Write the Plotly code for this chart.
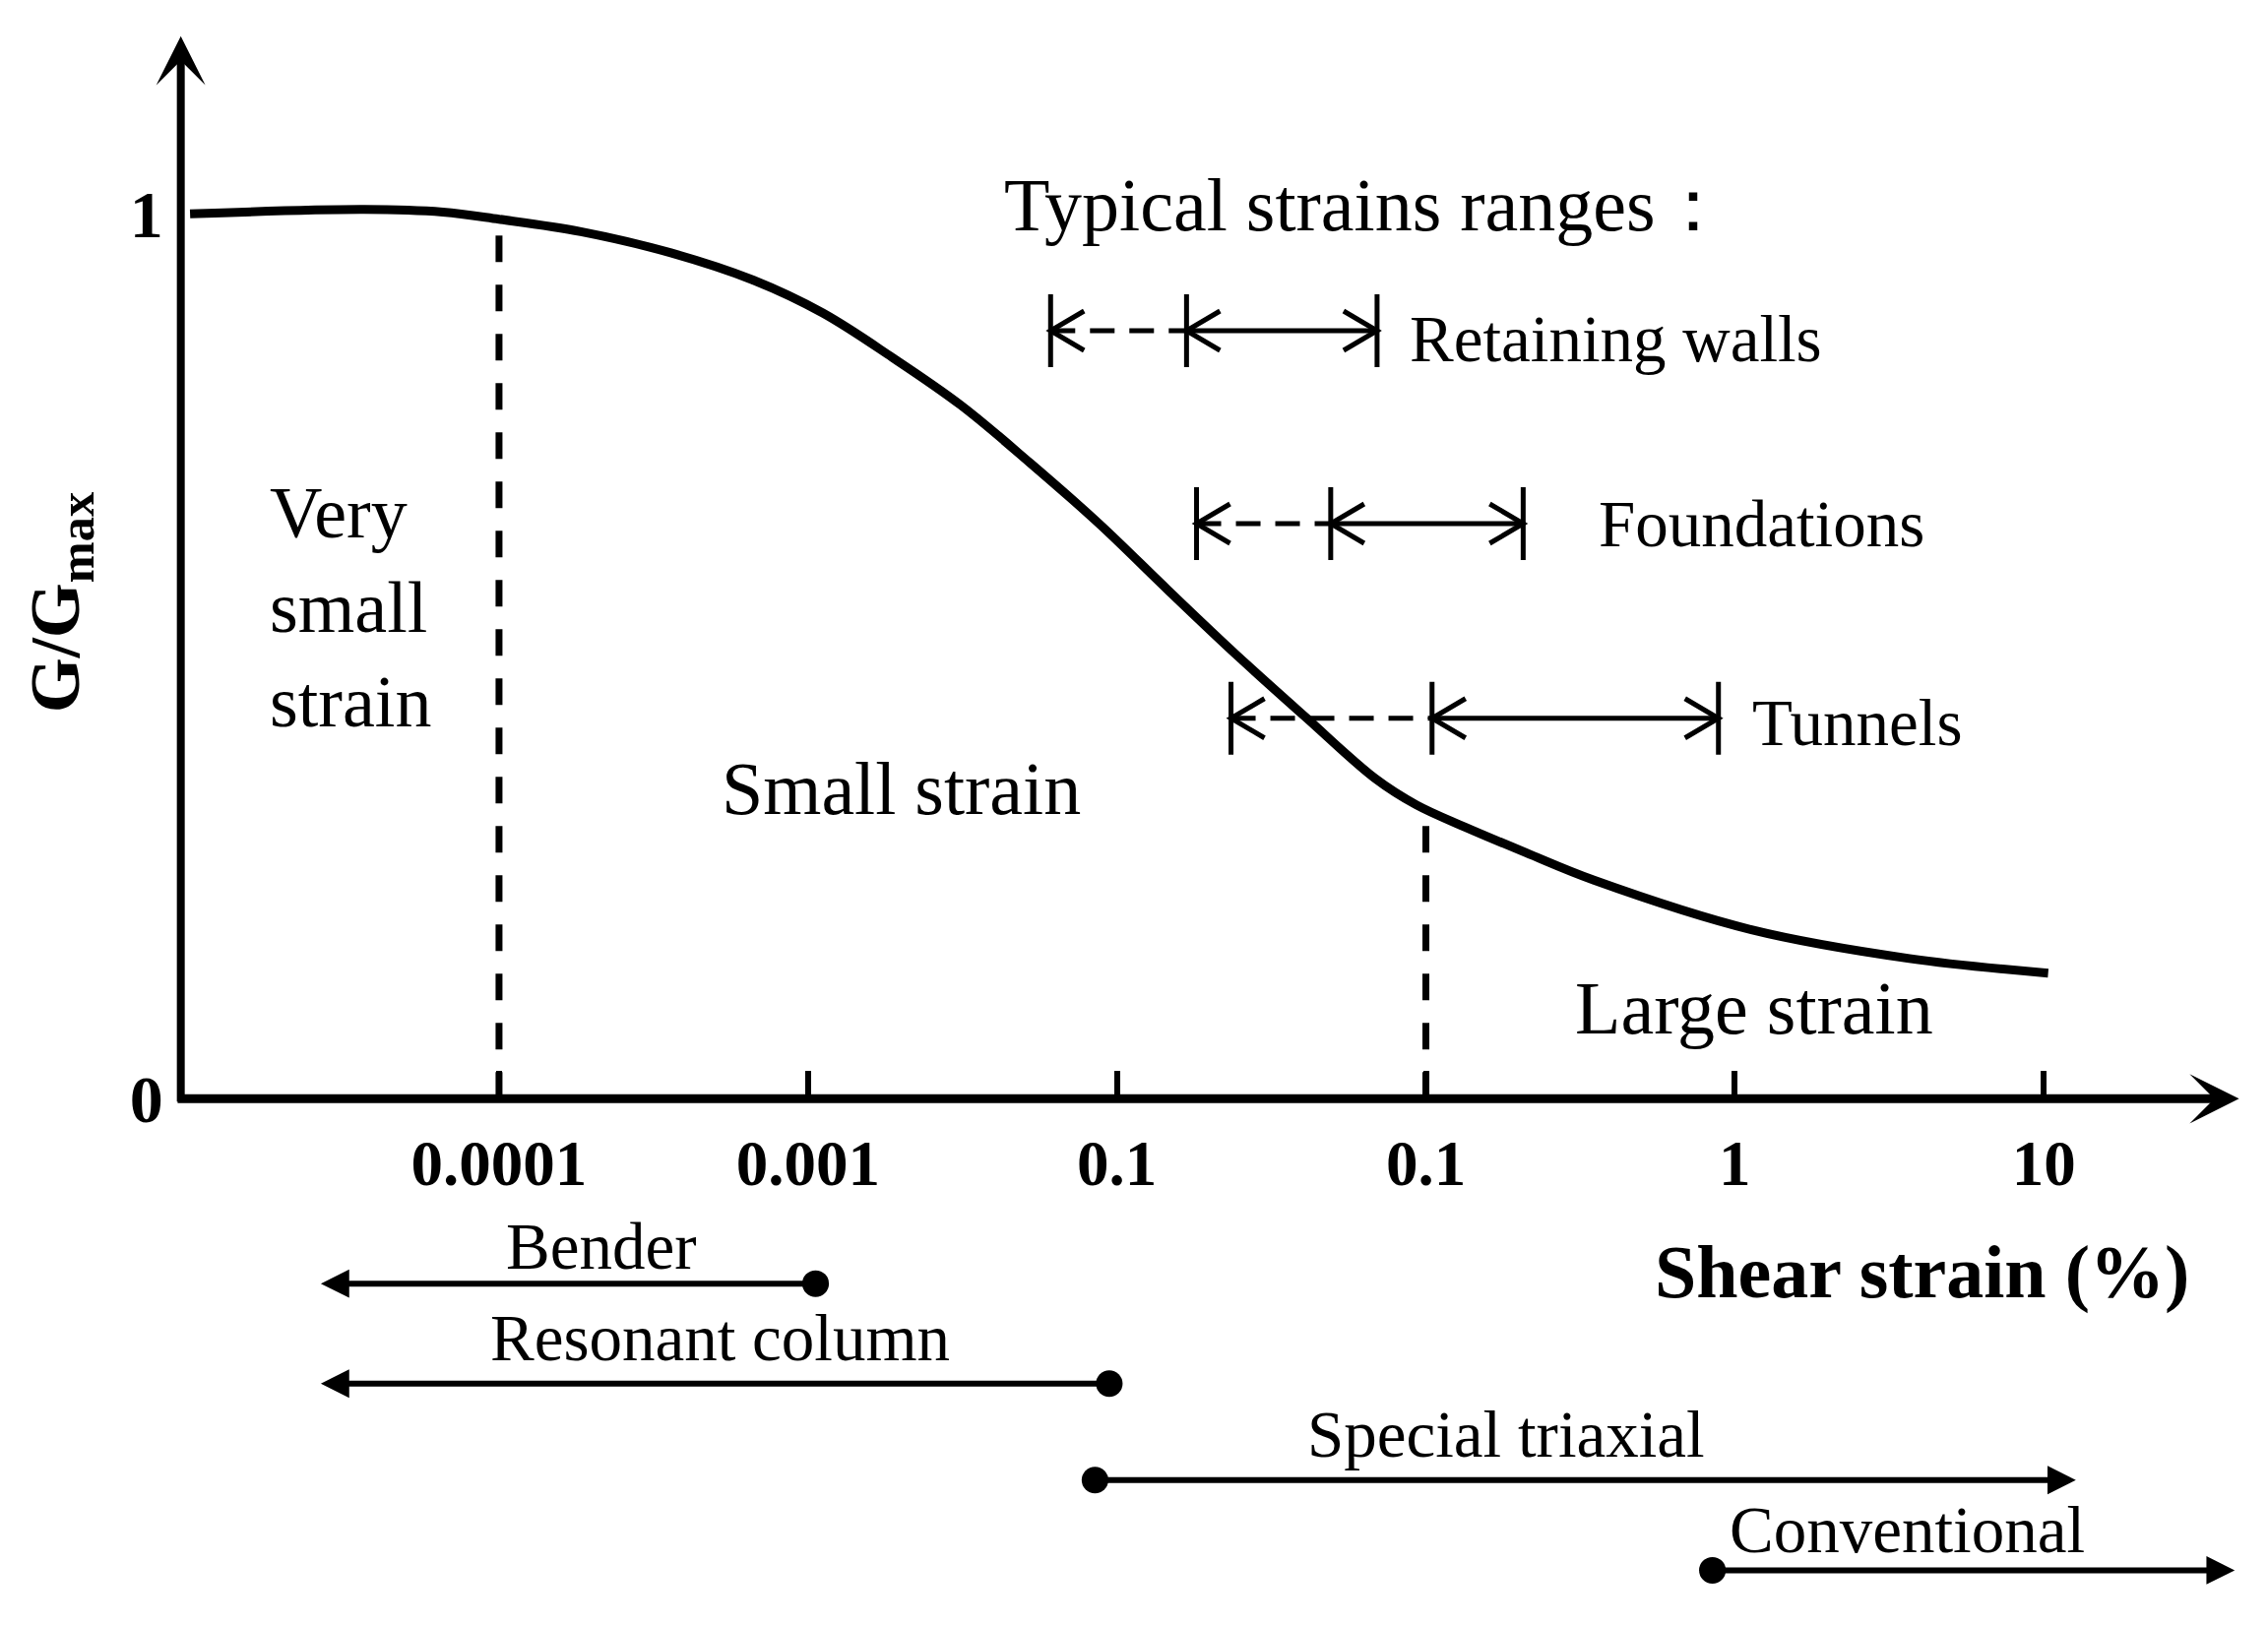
import numpy as np
import plotly.graph_objects as go

# ---------------- data ----------------
strain_curve = [1.0e-5, 3.66e-5, 6.58e-5, 1.0e-4, 1.84e-4, 3.60e-4, 6.67e-4, 1.117e-3,
                1.871e-3, 3.12e-3, 5.22e-3, 8.75e-3, 1.462e-2, 2.449e-2, 4.09e-2,
                6.85e-2, 9.33e-2, 0.134, 0.211, 0.350, 1.132, 3.673, 10.33]
g_ratio = [1.000, 1.005, 1.002, 0.994, 0.980, 0.956, 0.925, 0.888,
           0.838, 0.784, 0.719, 0.650, 0.575, 0.501, 0.431,
           0.362, 0.332, 0.307, 0.278, 0.247, 0.191, 0.1585, 0.142]

tick_values = [1e-4, 1e-3, 1e-2, 1e-1, 1, 10]
tick_labels = ["0.0001", "0.001", "0.1", "0.1", "1", "10"]
y_tick_values = [0, 1]
y_tick_labels = ["0", "1"]

boundary_strains = [1e-4, 1e-1]
boundary_tops = [0.985, 0.33]

range_names = ["Retaining walls", "Foundations", "Tunnels"]
range_level = [0.868, 0.650, 0.430]
range_ext_start = [0.0061, 0.0181, 0.0234]
range_start = [0.0168, 0.0492, 0.1047]
range_end = [0.0695, 0.2065, 0.885]

test_names = ["Bender", "Resonant column", "Special triaxial", "Conventional"]
test_from = [0.00107, 0.00955, 0.0084, 0.837]
test_to = [2.65e-5, 2.65e-5, 12.7, 41.5]

# ---------------- layout constants ----------------
W, H = 2296, 1643          # page body adds an 8px offset
x_range = [-5.5897, 1.7257]
y_range = [-0.5948, 1.2329]
FX = (x_range[1] - x_range[0]) / W
FY = (y_range[1] - y_range[0]) / H
FONT = "Liberation Serif, Times New Roman, serif"

yaxis_x = -5.030
xaxis_left = -5.045
xaxis_tip = 1.632
yaxis_tip = 1.201

test_level = [-0.209, -0.322, -0.431, -0.533]
test_label_x = [-3.670, -3.284, -0.739, 0.558]
test_label_y = [-0.167, -0.270, -0.379, -0.487]

range_label_x = [-1.060, -0.447, 0.050]
range_label_y = [0.859, 0.650, 0.425]

fig = go.Figure()

# main curve
fig.add_trace(go.Scatter(
    x=np.log10(strain_curve), y=g_ratio, mode="lines",
    line=dict(color="black", width=9, shape="spline", smoothing=1.0),
    hoverinfo="skip", showlegend=False))

# boundary dashed lines
for bs, top in zip(boundary_strains, boundary_tops):
    fig.add_trace(go.Scatter(
        x=[np.log10(bs), np.log10(bs)], y=[0, top], mode="lines",
        line=dict(color="black", width=7, dash="27px,23px"),
        hoverinfo="skip", showlegend=False))

# typical strain ranges
bar_half = 37 * FY
chev_len = 34 * FX
chev_half = 20 * FY
for i in range(len(range_names)):
    x0 = np.log10(range_ext_start[i])
    x1 = np.log10(range_start[i])
    x2 = np.log10(range_end[i])
    y = range_level[i]
    bx, by = [], []
    for xv in (x0, x1, x2):
        bx += [xv, xv, None]
        by += [y - bar_half, y + bar_half, None]
    for tip, d in ((x0, 1), (x1, 1), (x2, -1)):
        bx += [tip + d * chev_len, tip, tip + d * chev_len, None]
        by += [y + chev_half, y, y - chev_half, None]
    bx += [x1, x2, None]
    by += [y, y, None]
    fig.add_trace(go.Scatter(x=bx, y=by, mode="lines",
                             line=dict(color="black", width=5),
                             hoverinfo="skip", showlegend=False))
    fig.add_trace(go.Scatter(x=[x0, x1], y=[y, y], mode="lines",
                             line=dict(color="black", width=5, dash="25px,15px"),
                             hoverinfo="skip", showlegend=False))
    fig.add_annotation(x=range_label_x[i], y=range_label_y[i], text=range_names[i],
                       showarrow=False, xanchor="left", yanchor="middle",
                       font=dict(family=FONT, size=67, color="black"))

# axes drawn as arrows
fig.add_annotation(x=xaxis_tip, y=0, ax=xaxis_left, ay=0, xref="x", yref="y",
                   axref="x", ayref="y", text="", showarrow=True, arrowhead=3,
                   arrowsize=0.93, arrowwidth=9, arrowcolor="black", standoff=0)
fig.add_annotation(x=yaxis_x, y=yaxis_tip, ax=yaxis_x, ay=-0.005, xref="x", yref="y",
                   axref="x", ayref="y", text="", showarrow=True, arrowhead=3,
                   arrowsize=1.04, arrowwidth=8, arrowcolor="black", standoff=0)

# test apparatus arrows
for i in range(len(test_names)):
    lvl = test_level[i]
    fig.add_annotation(x=np.log10(test_to[i]), y=lvl, ax=np.log10(test_from[i]), ay=lvl,
                       xref="x", yref="y", axref="x", ayref="y", text="",
                       showarrow=True, arrowhead=2, arrowsize=0.96, arrowwidth=6,
                       startarrowhead=6, startarrowsize=1.13, arrowside="end+start",
                       arrowcolor="black", standoff=0, startstandoff=0)
    fig.add_annotation(x=test_label_x[i], y=test_label_y[i], text=test_names[i],
                       showarrow=False, xanchor="center", yanchor="middle",
                       font=dict(family=FONT, size=67, color="black"))

# region labels
fig.add_annotation(x=-4.749, y=0.5556, text="Very<br>small<br>strain", showarrow=False,
                   xanchor="left", yanchor="middle", align="left",
                   font=dict(family=FONT, size=74, color="black"))
fig.add_annotation(x=-2.698, y=0.351, text="Small strain", showarrow=False,
                   xanchor="center", yanchor="middle",
                   font=dict(family=FONT, size=76, color="black"))
fig.add_annotation(x=0.064, y=0.103, text="Large strain", showarrow=False,
                   xanchor="center", yanchor="middle",
                   font=dict(family=FONT, size=76, color="black"))
fig.add_annotation(x=-2.371, y=1.010, text="Typical strains ranges：", showarrow=False,
                   xanchor="left", yanchor="middle",
                   font=dict(family=FONT, size=76, color="black"))
# axis titles
fig.add_annotation(x=0.607, y=-0.196, text="<b>Shear strain (%)</b>", showarrow=False,
                   xanchor="center", yanchor="middle",
                   font=dict(family=FONT, size=76, color="black"))
fig.add_annotation(x=-5.4185, y=0.5605, text="<b>G/G<sub>max</sub></b>", showarrow=False,
                   textangle=-90, xanchor="center", yanchor="middle",
                   font=dict(family=FONT, size=72, color="black"))

fig.update_layout(
    width=W, height=H, autosize=False,
    margin=dict(l=0, r=0, t=0, b=0),
    paper_bgcolor="white", plot_bgcolor="white",
    xaxis=dict(range=x_range, showgrid=False, zeroline=False, showline=False,
               anchor="free", position=(0 - y_range[0]) / (y_range[1] - y_range[0]),
               tickmode="array", tickvals=np.log10(tick_values), ticktext=tick_labels,
               ticks="inside", ticklen=28, tickwidth=6, tickcolor="black",
               ticklabelstandoff=22,
               tickfont=dict(family=FONT, size=65, color="black", weight="bold")),
    yaxis=dict(range=y_range, showgrid=False, zeroline=False, showline=False,
               anchor="free", position=(yaxis_x - x_range[0]) / (x_range[1] - x_range[0]),
               tickmode="array", tickvals=y_tick_values, ticktext=y_tick_labels,
               ticks="", ticklabelstandoff=18,
               tickfont=dict(family=FONT, size=68, color="black", weight="bold")),
)

fig.write_html("out.html")
